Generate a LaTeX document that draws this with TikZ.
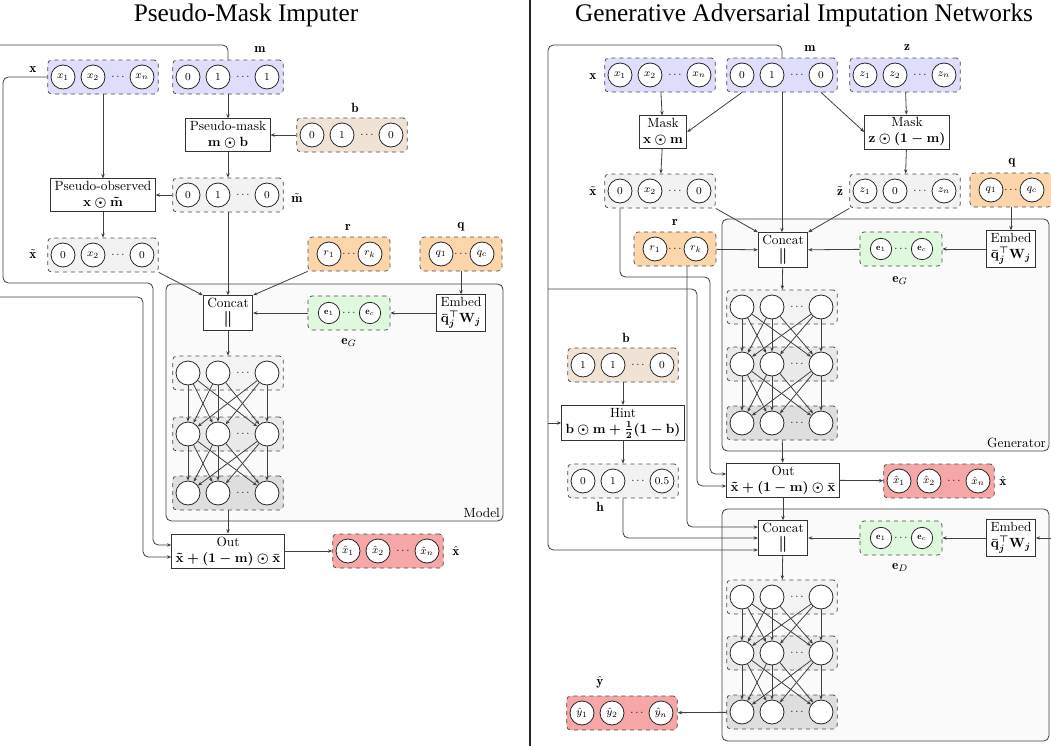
\documentclass[tikz,border=0pt]{standalone}
\usepackage{fontspec}
\newfontfamily\titlefont{Liberation Serif}
\usetikzlibrary{arrows.meta,calc}

\definecolor{inblue}{RGB}{222,222,250}
\definecolor{ingray}{RGB}{242,242,242}
\definecolor{inbeige}{RGB}{241,226,214}
\definecolor{inorange}{RGB}{250,214,170}
\definecolor{ingreen}{RGB}{224,248,222}
\definecolor{outred}{RGB}{245,166,166}
\definecolor{layera}{RGB}{243,243,243}
\definecolor{layerb}{RGB}{233,233,233}
\definecolor{layerc}{RGB}{222,222,222}

\newcommand{\vecthree}[6]{%
  \node[vbox, fill=#3] (#1) at (#2) {};
  \node[cell] (#1-1) at ($(#1)+(-40,0)$) {#4};
  \node[cell] (#1-2) at ($(#1)+(-10,0)$) {#5};
  \node[cell] (#1-3) at ($(#1)+(39,0)$) {#6};
  \node[ellip] (#1-d) at ($(#1)+(15,0)$) {$\cdots$};
}
\newcommand{\vectwo}[6][cell]{%
  \node[vbox, vboxtwo, fill=#4] (#2) at (#3) {};
  \node[#1] (#2-1) at ($(#2)+(-20,0)$) {#5};
  \node[#1] (#2-2) at ($(#2)+(21,0)$) {#6};
  \node[ellip] (#2-d) at (#2) {$\cdots$};
}

\begin{document}
\begin{tikzpicture}[x=0.75pt, y=-0.75pt, line width=0.6pt,
  vbox/.style={draw=black!70, dashed, rounded corners=3pt, minimum width=83pt, minimum height=25.5pt, inner sep=0pt},
  vboxtwo/.style={minimum width=61.5pt},
  cell/.style={circle, draw=black!85, solid, fill=white, minimum size=18pt, inner sep=0pt, font=\footnotesize},
  ecell/.style={cell, minimum size=16pt, font=\scriptsize},
  ellip/.style={inner sep=0pt, font=\footnotesize},
  op/.style={draw=black!80, fill=white, align=center, inner xsep=3pt, inner ysep=2pt},
  lab/.style={inner sep=1pt},
  arr/.style={draw=black!75, -{Stealth[length=3.2pt,width=2.6pt]}},
  panel/.style={draw=black!75, fill=black!2, rounded corners=4pt},
  ttl/.style={font={\titlefont\fontsize{19}{22}\selectfont}}]
\useasboundingbox (0,0) rectangle (1051,746);
\clip (0,0) rectangle (1051,746);

\node[ttl] (t1) at (246,15) {Pseudo-Mask Imputer};
\node[ttl] (t2) at (804,15) {Generative Adversarial Imputation Networks};
\draw[line width=1pt, black!85] (530,0) -- (530,746);

% pseudo-mask imputer
\vecthree{xL}{103,77}{inblue}{$x_1$}{$x_2$}{$x_n$}
\vecthree{mL}{228,77}{inblue}{0}{1}{1}
\node[op] (pmask) at (228,135) {Pseudo-mask\\{\boldmath$\mathbf{m}\odot\mathbf{b}$}};
\vecthree{bL}{352,135}{inbeige}{0}{1}{0}
\vecthree{mtL}{228,195}{ingray}{0}{1}{0}
\node[op] (pobs) at (103,195) {Pseudo-observed\\{\boldmath$\mathbf{x}\odot\tilde{\mathbf{m}}$}};
\vecthree{xtL}{103,255}{ingray}{0}{$x_2$}{0}
\vectwo{rL}{349,254}{inorange}{$r_1$}{$r_k$}
\vectwo{qL}{461,254}{inorange}{$q_1$}{$q_c$}
\draw[panel] (166,284) rectangle (503,521);
\node[anchor=south east, inner sep=2pt] (lmodel) at (503,521) {Model};
\node[op] (catL) at (228,313) {Concat\\{\large\boldmath$\Vert$}};
\vectwo[ecell]{eL}{349,313}{ingreen}{$\mathbf{e}_1$}{$\mathbf{e}_c$}
\node[op] (embL) at (461,313) {Embed\\{\boldmath$\bar{\mathbf{q}}_j^{\top}\mathbf{W}_j$}};
\vecthree{ll1}{228,373}{layera}{}{}{}
\vecthree{ll2}{228,434}{layerb}{}{}{}
\vecthree{ll3}{228,493}{layerc}{}{}{}
\node[op] (outL) at (228,551) {Out\\{\boldmath$\tilde{\mathbf{x}}+(\mathbf{1}-\mathbf{m})\odot\bar{\mathbf{x}}$}};
\vecthree{xhL}{388,551}{outred}{$\hat{x}_1$}{$\hat{x}_2$}{$\hat{x}_n$}

\node[lab] (lxL) at (33,70) {$\mathbf{x}$};
\node[lab] (lmL) at (260,49) {$\mathbf{m}$};
\node[lab] (lbL) at (355,108) {$\mathbf{b}$};
\node[lab] (lmtL) at (297,198) {$\tilde{\mathbf{m}}$};
\node[lab] (lxtL) at (33,254) {$\tilde{\mathbf{x}}$};
\node[lab] (lrL) at (348,227) {$\mathbf{r}$};
\node[lab] (lqL) at (461,227) {$\mathbf{q}$};
\node[lab] (leL) at (349,342) {$\mathbf{e}_G$};
\node[lab] (lxhL) at (456,551) {$\hat{\mathbf{x}}$};

\draw[arr] (mL) -- (pmask);
\draw[arr] (bL) -- (pmask);
\draw[arr] (pmask) -- (mtL);
\draw[arr] (mtL) -- (pobs);
\draw[arr] (xL) -- (pobs);
\draw[arr] (pobs) -- (xtL);
\draw[arr] (xtL.south east) -- (catL.north west);
\draw[arr] (mtL) -- (catL);
\draw[arr] (rL.south west) -- (catL.north east);
\draw[arr] (qL) -- (embL);
\draw[arr] (embL) -- (eL);
\draw[arr] (eL) -- (catL);
\draw[arr] (catL) -- (ll1);
\draw[arr] (ll3) -- (outL);
\draw[arr] (outL) -- (xhL);
\draw[arr, rounded corners=4pt] (xL.west) -- (3,77) -- (3,283) -- (153,283) -- (153,545) -- (outL.west |- 0,545);
\draw[arr, rounded corners=4pt] (mL.north) -- (228,45) -- (-10,45) -- (-10,297) -- (143,297) -- (143,557) -- (outL.west |- 0,557);

% gain
\vecthree{xR}{660,75}{inblue}{$x_1$}{$x_2$}{$x_n$}
\vecthree{mR}{782,75}{inblue}{0}{1}{0}
\vecthree{zR}{905,75}{inblue}{$z_1$}{$z_2$}{$z_n$}
\node[op] (maskx) at (663,132) {Mask\\{\boldmath$\mathbf{x}\odot\mathbf{m}$}};
\node[op] (maskz) at (907,132) {Mask\\{\boldmath$\mathbf{z}\odot(\mathbf{1}-\mathbf{m})$}};
\vecthree{xtR}{660,191}{ingray}{0}{$x_2$}{0}
\vecthree{ztR}{905,191}{ingray}{$z_1$}{0}{$z_n$}
\vectwo{qR}{1011,190}{inorange}{$q_1$}{$q_c$}
\draw[panel] (722,219) rectangle (1049,451);
\draw[panel] (722,509) rectangle (1049,741);
\node[anchor=south east, inner sep=2pt] (lgen) at (1049,451) {Generator};
\vectwo{rR}{675,249}{inorange}{$r_1$}{$r_k$}
\node[op] (catG) at (783,250) {Concat\\{\large\boldmath$\Vert$}};
\vectwo[ecell]{eG}{901,249}{ingreen}{$\mathbf{e}_1$}{$\mathbf{e}_c$}
\node[op] (embG) at (1011,249) {Embed\\{\boldmath$\bar{\mathbf{q}}_j^{\top}\mathbf{W}_j$}};
\vecthree{gl1}{782,307}{layera}{}{}{}
\vecthree{gl2}{782,364}{layerb}{}{}{}
\vecthree{gl3}{782,423}{layerc}{}{}{}
\node[op] (outR) at (783,480) {Out\\{\boldmath$\tilde{\mathbf{x}}+(\mathbf{1}-\mathbf{m})\odot\bar{\mathbf{x}}$}};
\vecthree{xhR}{939,481}{outred}{$\hat{x}_1$}{$\hat{x}_2$}{$\hat{x}_n$}
\node[op] (catD) at (783,538) {Concat\\{\large\boldmath$\Vert$}};
\vectwo[ecell]{eD}{901,538}{ingreen}{$\mathbf{e}_1$}{$\mathbf{e}_c$}
\node[op] (embD) at (1011,538) {Embed\\{\boldmath$\bar{\mathbf{q}}_j^{\top}\mathbf{W}_j$}};
\vecthree{dl1}{782,597}{layera}{}{}{}
\vecthree{dl2}{782,653}{layerb}{}{}{}
\vecthree{dl3}{782,712}{layerc}{}{}{}
\vecthree{yh}{622,713}{outred}{$\hat{y}_1$}{$\hat{y}_2$}{$\hat{y}_n$}
\vecthree{bR}{623,365}{inbeige}{1}{1}{0}
\node[op] (hint) at (623,423) {Hint\\{\boldmath$\mathbf{b}\odot\mathbf{m}+\frac{1}{2}(\mathbf{1}-\mathbf{b})$}};
\vecthree{hR}{623,481}{ingray}{0}{1}{0.5}

\node[lab] (lxR) at (593,77) {$\mathbf{x}$};
\node[lab] (lmR) at (810,48) {$\mathbf{m}$};
\node[lab] (lzR) at (907,48) {$\mathbf{z}$};
\node[lab] (lxtR) at (593,191) {$\tilde{\mathbf{x}}$};
\node[lab] (lztR) at (840,191) {$\tilde{\mathbf{z}}$};
\node[lab] (lqR) at (1012,163) {$\mathbf{q}$};
\node[lab] (lrR) at (675,222) {$\mathbf{r}$};
\node[lab] (leG) at (900,280) {$\mathbf{e}_G$};
\node[lab] (lbR) at (626,338) {$\mathbf{b}$};
\node[lab] (lhR) at (600,507) {$\mathbf{h}$};
\node[lab] (lxhR) at (1003,481) {$\hat{\mathbf{x}}$};
\node[lab] (leD) at (900,567) {$\mathbf{e}_D$};
\node[lab] (lyh) at (600,682) {$\hat{\mathbf{y}}$};

\coordinate (mj1) at (548,423);
\coordinate (mj2) at (548,289);
\coordinate (qD) at (1051,538);

\draw[arr] (xR) -- (maskx);
\draw[arr] (mR.south -| mR-1) -- (maskx.east);
\draw[arr] (mR.south -| mR-3) -- (maskz.west);
\draw[arr] (zR) -- (maskz);
\draw[arr] (maskx) -- (xtR);
\draw[arr] (maskz) -- (ztR);
\draw[arr] (xtR.south east) -- (catG.north west);
\draw[arr] (mR.south) -- (mR.south |- catG.north);
\draw[arr] (ztR.south west) -- (catG.north east);
\draw[arr] (rR) -- (catG);
\draw[arr] (qR) -- (embG);
\draw[arr] (embG) -- (eG);
\draw[arr] (eG) -- (catG);
\draw[arr] (catG) -- (gl1);
\draw[arr] (gl3) -- (outR);
\draw[arr] (outR) -- (xhR);
\draw[arr] (outR) -- (catD);
\draw[arr] (qD) -- (embD);
\draw[arr] (embD) -- (eD);
\draw[arr] (eD) -- (catD);
\draw[arr] (catD) -- (dl1);
\draw[arr] (dl3) -- (yh);
\draw[arr] (bR) -- (hint);
\draw[arr] (hint) -- (hR);
\draw[arr, rounded corners=4pt] (mR.north) -- (782,45) -- (548,45) -- (548,550) -- (catD.west |- 0,550);
\draw[arr] (mj1) -- (hint);
\draw[arr, rounded corners=4pt] (mj2) -- (697,289) -- (697,486) -- (outR.west |- 0,486);
\draw[arr, rounded corners=4pt] (xtR.south -| xtR-1) -- (xtR-1 |- 0,277) -- (710,277) -- (710,474) -- (outR.west |- 0,474);
\draw[arr, rounded corners=4pt] (rR.south -| 687,0) -- (687,527) -- (catD.west |- 0,527);
\draw[arr, rounded corners=4pt] (hR.south) -- (hR.south |- catD.west) -- (catD.west);

\foreach \u/\v in {ll1/ll2, ll2/ll3, gl1/gl2, gl2/gl3, dl1/dl2, dl2/dl3}
  \foreach \a in {1,2,3}
    \foreach \b in {1,2,3}
      \draw[arr] (\u-\a) -- (\v-\b);
\end{tikzpicture}
\end{document}
